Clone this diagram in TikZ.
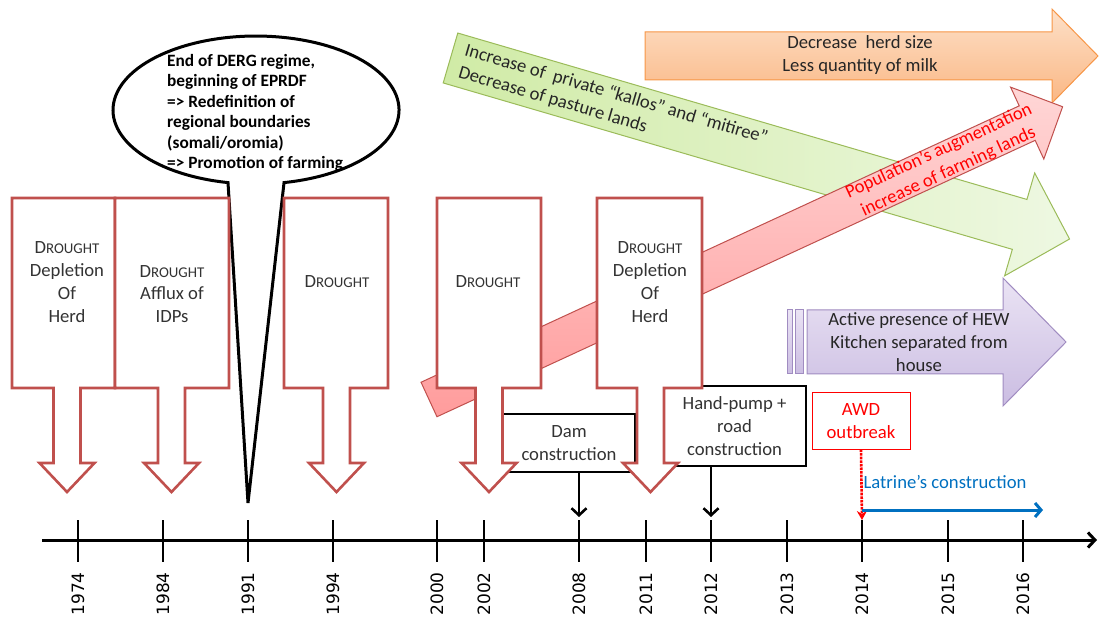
\documentclass[tikz,border=0pt]{standalone}
\usepackage{fontspec}
\setmainfont{Carlito}
\newfontfamily\yearfont{DejaVu Sans}
\usetikzlibrary{arrows.meta}

\definecolor{droughtred}{HTML}{C0504D}
\definecolor{greenline}{HTML}{9BBB59}
\definecolor{greenA}{HTML}{D0EBA6}
\definecolor{greenB}{HTML}{EEF8E2}
\definecolor{orangeline}{HTML}{F79646}
\definecolor{orangeA}{HTML}{FDE0C8}
\definecolor{orangeB}{HTML}{FAB784}
\definecolor{pinkA}{HTML}{FFD6D6}
\definecolor{pinkB}{HTML}{FF9C9C}
\definecolor{purpleline}{HTML}{A08CC1}
\definecolor{purpleA}{HTML}{EAE3F4}
\definecolor{purpleB}{HTML}{CBBDE2}
\definecolor{latrineblue}{HTML}{0070C0}

\newcommand{\bodysize}{\fontsize{18.67}{22.8}\selectfont}
\newcommand{\droughtword}{D{\fontsize{14.9}{22.8}\selectfont ROUGHT}}
% box from #1 to #2, arrow tip at x = #3
\newcommand{\droughtarrow}[3]{%
  \draw[drought] (#1,198) -- (#2,198) -- (#2,388) -- ({#3+13.5},388) -- ({#3+13.5},463)
    -- ({#3+27.5},463) -- (#3,492) -- ({#3-27.5},463) -- ({#3-13.5},463) -- ({#3-13.5},388)
    -- (#1,388) -- cycle;}

\tikzset{
  drought/.style={draw=droughtred, line width=2.6pt, fill=white},
  droughttext/.style={align=center, font=\bodysize, text=black!80, inner sep=0pt},
  bubble/.style={draw=black, line width=3pt, fill=white, line join=miter},
  eventbox/.style={draw=black, line width=1.4pt, fill=white, align=center, font=\bodysize, text=black!80},
  awdbox/.style={draw=red, line width=1pt, fill=white, align=center, font=\bodysize, text=red},
  trendtext/.style={align=center, font=\bodysize, text=black!85, inner sep=0pt},
  tick/.style={line width=2.6pt},
  yearlabel/.style={rotate=90, anchor=east, inner sep=0pt, font=\yearfont\fontsize{17}{17}\selectfont},
  pointer/.style={line width=2.6pt, -{Straight Barb[length=7pt,width=15pt]}, shorten >=3pt},
}

\begin{document}
\begin{tikzpicture}[x=1pt,y=-1pt]
\useasboundingbox (0,0) rectangle (1103,617);

% green trend arrow
\begin{scope}[shift={(450.5,58)}, rotate=-16.3]
  \draw[draw=greenline, line width=1pt, left color=greenA, right color=greenB]
    (0,-26) -- (593,-26) -- (593,-53.6) -- (645,0) -- (593,53.6) -- (593,26) -- (0,26) -- cycle;
  \node[trendtext, align=left, anchor=west, transform shape] (pasture) at (12,0)
    {Increase of~ private “kallos” and “mitiree”\\Decrease of pasture lands};
\end{scope}

% orange trend arrow
\draw[draw=orangeline, line width=1pt, top color=orangeA, bottom color=orangeB]
  (645,32) -- (1052,32) -- (1052,9) -- (1098,56) -- (1052,103) -- (1052,80) -- (645,80) -- cycle;
\node[trendtext] (herd) at (860,55) {Decrease~ herd size\\Less quantity of milk};

% pink trend arrow
\begin{scope}[shift={(429,399.5)}, rotate=24.8]
  \draw[draw=droughtred, line width=1pt, top color=pinkA, bottom color=pinkB]
    (0,-19) -- (659,-19) -- (659,-39.6) -- (698,0) -- (659,39.6) -- (659,19) -- (0,19) -- cycle;
  \node[trendtext, text=red, transform shape] (farming) at (567,0)
    {Population’s augmentation\\increase of farming lands};
\end{scope}

% speech bubble for 1991
\draw[bubble] (228,182.6) arc[start angle=101.3, end angle=438.7, x radius=143, y radius=74]
  -- (248,503) -- cycle;
\node[align=left, anchor=west, inner sep=0pt, font=\bfseries\fontsize{17.3}{20.5}\selectfont] (derg) at (167,113)
  {End of DERG regime,\\beginning of EPRDF\\=> Redefinition of\\regional boundaries\\(somali/oromia)\\=> Promotion of farming};

% events below the droughts
\node[eventbox, minimum width=132pt, minimum height=58pt] (dam) at (569,443) {Dam\\construction};
\node[eventbox, minimum width=143pt, minimum height=80pt] (pump) at (734.5,426) {Hand-pump +\\road\\construction};

% drought arrows
\droughtarrow{12}{115}{67}
\droughtarrow{115}{229}{171.5}
\droughtarrow{284}{388}{336.5}
\droughtarrow{437}{541}{489}
\droughtarrow{597}{702}{650.5}
\node[droughttext] (d1974) at (67,282) {\droughtword\\Depletion\\Of\\Herd};
\node[droughttext] (d1984) at (172,294) {\droughtword\\Afflux of\\IDPs};
\node[droughttext] (d1994) at (337,282) {\droughtword};
\node[droughttext] (d2002) at (488,282) {\droughtword};
\node[droughttext] (d2011) at (650,282) {\droughtword\\Depletion\\Of\\Herd};

% purple trend arrow
\draw[draw=purpleline, line width=1pt, top color=purpleA, bottom color=purpleB]
  (787,310) rectangle (792,374);
\draw[draw=purpleline, line width=1pt, top color=purpleA, bottom color=purpleB]
  (795,310) rectangle (803,374);
\draw[draw=purpleline, line width=1pt, top color=purpleA, bottom color=purpleB]
  (807,310) -- (1003,310) -- (1003,278) -- (1066,342) -- (1003,406) -- (1003,374) -- (807,374) -- cycle;
\node[trendtext] (hew) at (919,342) {Active presence of HEW\\Kitchen separated from\\house};

\node[awdbox, minimum width=98pt, minimum height=56pt] (awd) at (861,421) {AWD\\outbreak};

% time axis
\coordinate (axisstart) at (42,540);
\coordinate (axisend) at (1097,540);
\draw[line width=3pt, -{Straight Barb[length=7pt,width=15pt]}] (axisstart) -- (axisend);
\foreach \yr/\xx in {1974/78, 1984/163, 1991/248, 1994/333, 2000/437, 2002/484, 2008/579,
  2011/646, 2012/711, 2013/787, 2014/862, 2015/948, 2016/1023} {
  \draw[tick] (\xx,520) -- (\xx,562);
  \coordinate (y\yr) at (\xx,520);
  \node[yearlabel] (lab\yr) at (\xx,572) {\yr};
}

\draw[pointer] (dam.south -| y2008) -- (y2008);
\draw[pointer] (pump.south -| y2012) -- (y2012);
\draw[red, line width=2.6pt, densely dotted, -{Stealth[length=9pt,width=10pt]}] (awd.south) -- (y2014);

\coordinate (latrine0) at (862,510);
\coordinate (latrine1) at (1043,510);
\draw[latrineblue, line width=3pt, -{Straight Barb[length=6pt,width=14pt]}] (latrine0) -- (latrine1);
\node[font=\bodysize, text=latrineblue, inner sep=0pt] (latrine) at (945,482) {Latrine’s construction};
\end{tikzpicture}
\end{document}
